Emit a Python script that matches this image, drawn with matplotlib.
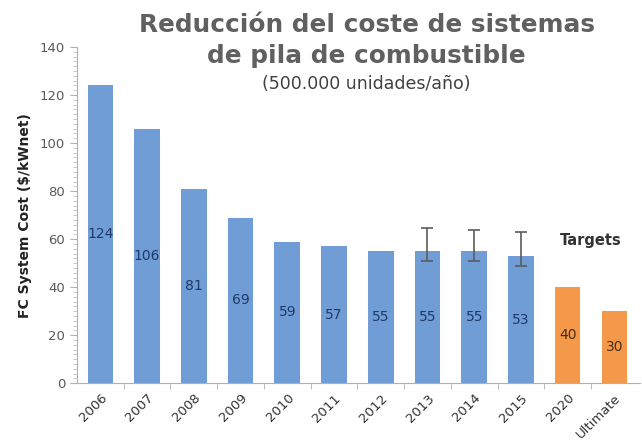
import matplotlib.pyplot as plt
import numpy as np
from matplotlib.ticker import MultipleLocator, FixedLocator

categories = ["2006", "2007", "2008", "2009", "2010", "2011", "2012",
              "2013", "2014", "2015", "2020", "Ultimate"]
cost = [124, 106, 81, 69, 59, 57, 55, 55, 55, 53, 40, 30]
err_low = [0, 0, 0, 0, 0, 0, 0, 4, 4, 4, 0, 0]
err_high = [0, 0, 0, 0, 0, 0, 0, 9.5, 9, 10, 0, 0]
is_target = [False] * 10 + [True, True]

blue = "#719dd6"
orange = "#f4994a"
gray = "#5a5a5a"

fig = plt.figure(figsize=(6.42, 4.44), dpi=100)
ax = fig.add_axes([0.12, 0.137, 0.877, 0.757])

x = np.arange(len(categories))
colors = [orange if t else blue for t in is_target]
ax.bar(x, cost, width=0.55, color=colors, zorder=2)

# error bars only for the 2013-2015 estimates
for i in range(len(x)):
    if err_high[i] > 0:
        ax.errorbar(x[i], cost[i], yerr=[[err_low[i]], [err_high[i]]],
                    fmt="none", ecolor="#5c5c5c", elinewidth=1.2,
                    capsize=4, capthick=1.2, zorder=3)

# value labels in the middle of each bar
for i, v in enumerate(cost):
    c = "#4a2e12" if is_target[i] else "#1f3a66"
    ax.text(x[i], v / 2, str(v), ha="center", va="center",
            fontsize=10, color=c, zorder=4)

ax.text(10.5, 59.5, "Targets", ha="center", va="center",
        fontsize=10.5, fontweight="bold", color="#333333")

ax.set_xlim(-0.5, len(categories) - 0.45)
ax.set_ylim(0, 140)
ax.yaxis.set_major_locator(MultipleLocator(20))
ax.yaxis.set_minor_locator(MultipleLocator(2))
ax.set_xticks(x)
ax.set_xticklabels(categories, rotation=45, ha="right",
                   rotation_mode="anchor", fontsize=9.5, color="#333333")
ax.xaxis.set_minor_locator(FixedLocator(x[:-1] + 0.5))
ax.tick_params(axis="x", which="major", length=0, pad=6)
ax.tick_params(axis="x", which="minor", length=4, color="#b0b0b0")
ax.tick_params(axis="y", which="major", length=5, color="#b0b0b0",
               labelsize=9.5, labelcolor=gray)
ax.tick_params(axis="y", which="minor", length=3, color="#c0c0c0")

for side in ["top", "right"]:
    ax.spines[side].set_visible(False)
ax.spines["left"].set_color("#b0b0b0")
ax.spines["bottom"].set_color("#b0b0b0")

ax.set_ylabel("FC System Cost ($/kWnet)", fontsize=10, fontweight="bold",
              color="#222222", labelpad=6)

fig.text(0.571, 0.928, "Reducción del coste de sistemas", ha="center",
         va="baseline", fontsize=17.8, fontweight="bold", color="#606060")
fig.text(0.571, 0.858, "de pila de combustible", ha="center",
         va="baseline", fontsize=17.8, fontweight="bold", color="#606060")
fig.text(0.571, 0.800, "(500.000 unidades/año)", ha="center",
         va="baseline", fontsize=12.5, color="#404040")

fig.savefig("out.png", dpi=100)
